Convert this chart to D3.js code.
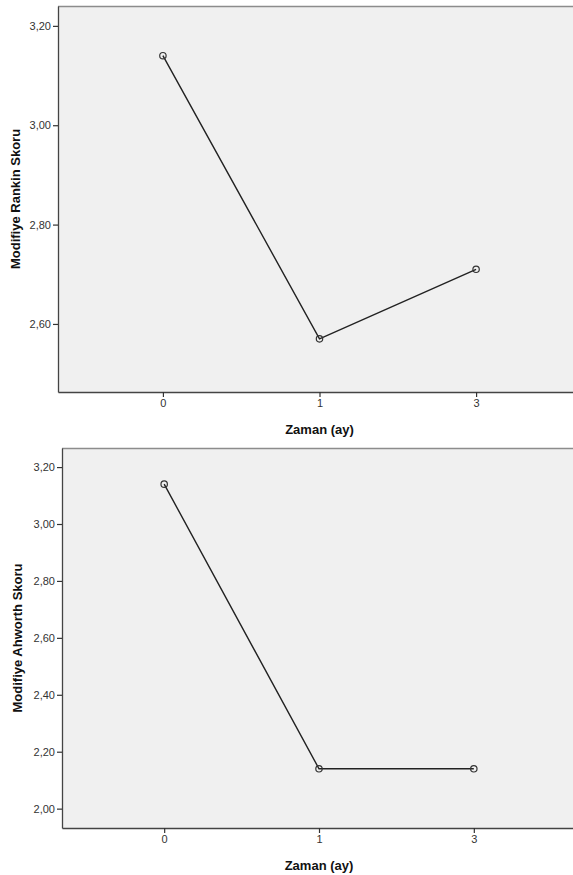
<!DOCTYPE html>
<html>
<head>
<meta charset="utf-8">
<script src="https://cdn.jsdelivr.net/npm/d3@7"></script>
<style>
  html, body { margin: 0; padding: 0; background: #ffffff; }
  svg { display: block; }
  text { font-family: "Liberation Sans", Arial, sans-serif; }
</style>
</head>
<body>
<svg id="chart" width="573" height="875"></svg>
<script>
// Time points (months) shared by both panels
const categories = ["0", "1", "3"];

// Mean scores at each time point
const rankinValues = [3.14, 2.57, 2.71];
const ahworthValues = [3.14, 2.14, 2.14];

// Y-axis tick values
const rankinTicks = [2.60, 2.80, 3.00, 3.20];
const ahworthTicks = [2.00, 2.20, 2.40, 2.60, 2.80, 3.00, 3.20];

const xTitle = "Zaman (ay)";

const svg = d3.select("#chart");
const fmt = v => d3.format(".2f")(v).replace(".", ",");

function drawPanel(cfg) {
  const g = svg.append("g");

  const x = d3.scalePoint()
    .domain(categories)
    .range([cfg.left, cfg.right])
    .padding(cfg.pad);

  const y = d3.scaleLinear()
    .domain(cfg.yDomain)
    .range([cfg.bottom, cfg.top]);

  // plot background
  g.append("rect")
    .attr("x", cfg.left)
    .attr("y", cfg.top)
    .attr("width", cfg.right - cfg.left)
    .attr("height", cfg.bottom - cfg.top)
    .attr("fill", "#f0f0f0");

  // top frame line
  g.append("line")
    .attr("x1", cfg.left).attr("x2", cfg.right)
    .attr("y1", cfg.top + 0.5).attr("y2", cfg.top + 0.5)
    .attr("stroke", "#8c8c8c")
    .attr("stroke-width", 1.5);

  // y axis
  const ya = g.append("g")
    .attr("transform", `translate(${cfg.left},0)`)
    .call(d3.axisLeft(y).tickValues(cfg.ticks).tickFormat(fmt)
      .tickSize(5).tickSizeOuter(0).tickPadding(2));
  ya.select(".domain").attr("stroke", "#444").attr("stroke-width", 1.3);
  ya.selectAll(".tick line").attr("stroke", "#333").attr("stroke-width", 1.2);
  ya.selectAll(".tick text")
    .attr("fill", "#333")
    .style("font-size", "11px")
    .style("font-family", "'Liberation Sans', Arial, sans-serif");

  // x axis
  const xa = g.append("g")
    .attr("transform", `translate(0,${cfg.bottom})`)
    .call(d3.axisBottom(x).tickSize(5).tickSizeOuter(0).tickPadding(2));
  xa.select(".domain").attr("stroke", "#444").attr("stroke-width", 1.3);
  xa.selectAll(".tick line").attr("stroke", "#333").attr("stroke-width", 1.2);
  xa.selectAll(".tick text")
    .attr("fill", "#333")
    .style("font-size", "11px")
    .style("font-family", "'Liberation Sans', Arial, sans-serif");

  // axis titles
  g.append("text")
    .attr("x", x("1"))
    .attr("y", cfg.bottom + 42)
    .attr("text-anchor", "middle")
    .style("font-size", "13px")
    .style("font-weight", "bold")
    .attr("fill", "#111")
    .text(xTitle);

  g.append("text")
    .attr("transform", `translate(${cfg.yTitleX},${(cfg.top + cfg.bottom) / 2}) rotate(-90)`)
    .attr("text-anchor", "middle")
    .style("font-size", "13px")
    .style("font-weight", "bold")
    .attr("fill", "#111")
    .text(cfg.yTitle);

  // mean line
  const pts = categories.map((c, i) => [x(c), y(cfg.values[i])]);
  g.append("path")
    .attr("d", d3.line()(pts))
    .attr("fill", "none")
    .attr("stroke", "#222")
    .attr("stroke-width", 1.4);

  // markers
  g.selectAll("circle.pt")
    .data(pts)
    .join("circle")
    .attr("class", "pt")
    .attr("cx", d => d[0])
    .attr("cy", d => d[1])
    .attr("r", 3.2)
    .attr("fill", "none")
    .attr("stroke", "#333")
    .attr("stroke-width", 1.2);
}

drawPanel({
  left: 58, right: 581, top: 6, bottom: 392, pad: 0.67,
  yDomain: [2.463, 3.240],
  ticks: rankinTicks,
  values: rankinValues,
  yTitle: "Modifiye Rankin Skoru",
  yTitleX: 20
});

drawPanel({
  left: 62, right: 576, top: 448, bottom: 828, pad: 0.66,
  yDomain: [1.932, 3.267],
  ticks: ahworthTicks,
  values: ahworthValues,
  yTitle: "Modifiye Ahworth Skoru",
  yTitleX: 22
});
</script>
</body>
</html>
